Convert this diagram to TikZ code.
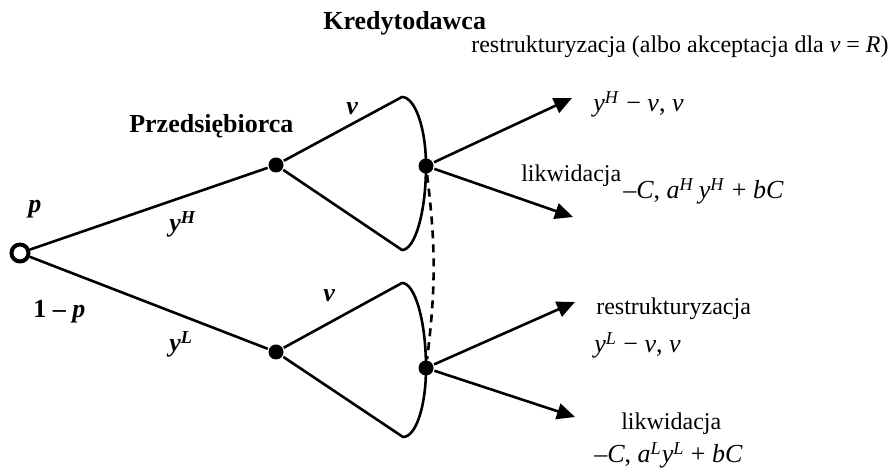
\documentclass[tikz,border=0pt]{standalone}
\usepackage{fontspec}
\setmainfont{Liberation Serif}
\usetikzlibrary{arrows.meta}

\newcommand{\hi}[1]{\textsuperscript{\textit{#1}}}

\begin{document}
\begin{tikzpicture}[
  chance/.style={circle,draw,line width=2pt,inner sep=0pt,minimum size=8.5pt},
  dot/.style={circle,fill,inner sep=0pt,minimum size=7.5pt},
  txt/.style={inner sep=0pt,anchor=base west},
  big/.style={txt,font=\fontsize{13}{15}\selectfont},
  move/.style={-{Triangle[length=9pt,width=8pt]}},
  every node/.style={font=\fontsize{12}{14}\selectfont},
  x=0.5pt,y=-0.5pt,line width=1.3pt
]
  \useasboundingbox (0,0) rectangle (890,474);

  % decision nodes
  \node[chance] (root) at (20,253) {};
  \node[dot] (pH) at (276,165) {};
  \node[dot] (pL) at (276,352) {};
  \node[dot] (kH) at (426,166) {};
  \node[dot] (kL) at (426,368) {};

  % fan corners and arrow tips
  \coordinate (uT) at (402,97);
  \coordinate (uB) at (402,250);
  \coordinate (lT) at (402,283);
  \coordinate (lB) at (403,437);
  \foreach \name/\x/\y in {aHr/572/98,aHl/573/217,aLr/575/302,aLl/575/417}
    \coordinate (\name) at (\x,\y);

  \draw (root) -- (pH);
  \draw (root) -- (pL);
  \draw (pH) -- (uT) .. controls (415,97) and (426,128) .. (kH.center)
    .. controls (426,212) and (415,250) .. (uB) -- (pH);
  \draw (pL) -- (lT) .. controls (415,283) and (426,321) .. (kL.center)
    .. controls (426,406) and (416,437) .. (lB) -- (pL);
  \draw[dash pattern=on 4pt off 3pt] (kH) to[bend left=7] (kL);

  \foreach \from/\to in {kH/aHr,kH/aHl,kL/aLr,kL/aLl}
    \draw[move] (\from) -- (\to);

  % players and moves
  \node[big] (kred) at (322,30) {\textbf{Kredytodawca}};
  \node[big] (przed) at (128,133) {\textbf{Przedsiębiorca}};
  \node[big] (pr) at (27,213) {\textbf{\textit{p}}};
  \node[big] (qr) at (32,318) {\textbf{1 – \textit{p}}};
  \node[big] (yH) at (168,232) {\textbf{\textit{y}\textsuperscript{\textit{H}}}};
  \node[big] (yL) at (168,352) {\textbf{\textit{y}\textsuperscript{\textit{L}}}};
  \node[big] (vH) at (345,115) {\textbf{\textit{v}}};
  \node[big] (vL) at (322,302) {\textbf{\textit{v}}};

  % payoffs
  \node[txt] (restH) at (470,53) {restrukturyzacja (albo akceptacja dla \textit{v} = \textit{R})};
  \node[big] (payRH) at (592,112) {\textit{y}\hi{H} − \textit{v}, \textit{v}};
  \node[txt] (likH) at (520,182) {likwidacja};
  \node[big] (payLH) at (622,199) {–\textit{C}, \textit{a}\hi{H}\,\textit{y}\hi{H} + \textit{bC}};
  \node[txt] (restL) at (595,315) {restrukturyzacja};
  \node[big] (payRL) at (593,353) {\textit{y}\hi{L} − \textit{v}, \textit{v}};
  \node[txt] (likL) at (620,430) {likwidacja};
  \node[big] (payLL) at (593,463) {–\textit{C}, \textit{a}\hi{L}\textit{y}\hi{L} + \textit{bC}};
\end{tikzpicture}
\end{document}
